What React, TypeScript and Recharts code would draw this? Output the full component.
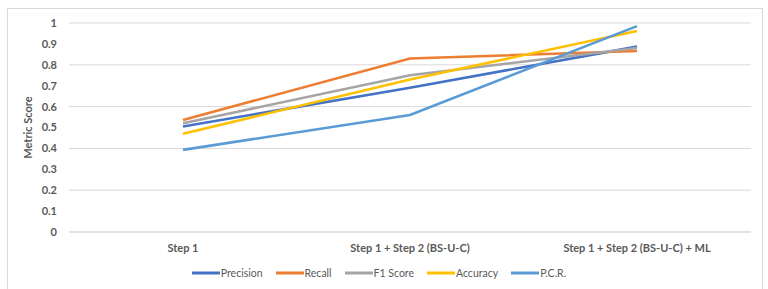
import React from 'react';
import { LineChart, Line, XAxis, YAxis, CartesianGrid, Legend, Label } from 'recharts';

const categories = ['Step 1', 'Step 1 + Step 2 (BS-U-C)', 'Step 1 + Step 2 (BS-U-C) + ML'];
const precision = [0.505, 0.69, 0.887];
const recall = [0.536, 0.83, 0.866];
const f1Score = [0.52, 0.75, 0.88];
const accuracy = [0.47, 0.73, 0.962];
const pcr = [0.393, 0.56, 0.985];
const yTicks = [0, 0.1, 0.2, 0.3, 0.4, 0.5, 0.6, 0.7, 0.8, 0.9, 1];

const series = [
  { key: 'precision', name: 'Precision', color: '#4472C4', values: precision },
  { key: 'recall', name: 'Recall', color: '#ED7D31', values: recall },
  { key: 'f1', name: 'F1 Score', color: '#A5A5A5', values: f1Score },
  { key: 'accuracy', name: 'Accuracy', color: '#FFC000', values: accuracy },
  { key: 'pcr', name: 'P.C.R.', color: '#5B9BD5', values: pcr },
];

const data = categories.map((c, i) => {
  const row: Record<string, any> = { name: c };
  series.forEach((s) => (row[s.key] = s.values[i]));
  return row;
});

const FONT = 'Lato, "Open Sans", sans-serif';

const LegendContent = () => (
  <div style={{ display: 'flex', justifyContent: 'center', fontFamily: FONT, fontSize: 10.5, color: '#595959', paddingLeft: 20, paddingTop: 9 }}>
    {series.map((s) => (
      <div key={s.key} style={{ display: 'flex', alignItems: 'center', marginRight: 13 }}>
        <svg width={28} height={4} style={{ marginRight: 1 }}>
          <line x1={0} y1={2} x2={28} y2={2} stroke={s.color} strokeWidth={3} />
        </svg>
        <span>{s.name}</span>
      </div>
    ))}
  </div>
);

export default function App() {
  return (
    <div style={{ position: 'absolute', left: 0, top: 0, width: 768, height: 289, background: '#fff' }}>
      <div style={{ position: 'absolute', left: 7, top: 8, width: 756, height: 285, border: '1px solid #d9d9d9', boxSizing: 'border-box' }} />
      <LineChart width={768} height={289} data={data} margin={{ top: 23, right: 17, bottom: 2, left: 0 }}>
        <CartesianGrid horizontal vertical={false} stroke="#d9d9d9" strokeWidth={1} />
        <XAxis
          dataKey="name"
          padding={{ left: 114, right: 114 }}
          tickLine={false}
          axisLine={{ stroke: '#d9d9d9' }}
          tick={{ fill: '#595959', fontSize: 11, fontWeight: 700, fontFamily: FONT }}
          tickSize={0}
          tickMargin={12}
          height={26}
          interval={0}
        />
        <YAxis
          domain={[0, 1]}
          ticks={yTicks}
          width={69}
          tickLine={false}
          axisLine={false}
          tickSize={0}
          tickMargin={12}
          tick={{ fill: '#595959', fontSize: 11, fontWeight: 700, fontFamily: FONT }}
        >
          <Label
            value="Metric Score"
            angle={-90}
            position="insideLeft"
            offset={28}
            style={{ fill: '#595959', fontSize: 11, fontWeight: 700, fontFamily: FONT, textAnchor: 'middle' }}
          />
        </YAxis>
        <Legend verticalAlign="bottom" height={29} content={<LegendContent />} />
        {series.map((s) => (
          <Line
            key={s.key}
            type="linear"
            dataKey={s.key}
            name={s.name}
            stroke={s.color}
            strokeWidth={2.6}
            dot={false}
            activeDot={false}
            isAnimationActive={false}
          />
        ))}
      </LineChart>
    </div>
  );
}
